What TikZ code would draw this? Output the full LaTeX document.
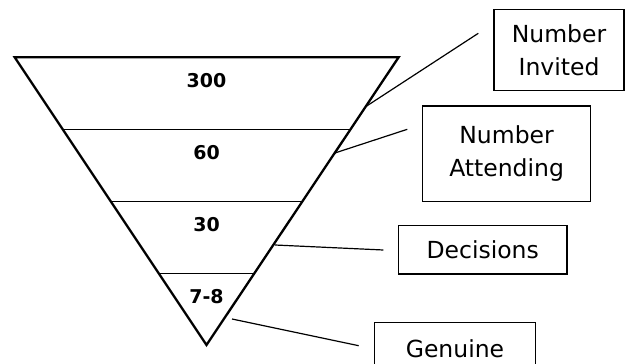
\documentclass[tikz,border=0pt]{standalone}
\usepackage{fontspec}
\setmainfont{DejaVu Sans}
\begin{document}
\begin{tikzpicture}[x=1pt,y=-1pt,
  tri/.style={line width=2.3pt, line join=miter},
  sep/.style={line width=1.3pt},
  conn/.style={line width=1.2pt},
  lbl/.style={draw, line width=1.4pt, inner sep=0pt, align=center,
    font=\fontsize{23.5}{33}\selectfont},
  num/.style={font=\bfseries\fontsize{19}{21}\selectfont}]
\clip (0,0) rectangle (625,364);
\useasboundingbox (0,0) rectangle (625,364);
% funnel
\coordinate (tl) at (14.7,57.3);
\coordinate (tr) at (398.6,57.3);
\coordinate (ap) at (206.5,345);
\draw[tri] (tl) -- (tr) -- (ap) -- cycle;
\coordinate (a1) at (63.8,129.3);  \coordinate (b1) at (350.7,129.3);
\coordinate (a2) at (111.6,201.7); \coordinate (b2) at (300.9,201.7);
\coordinate (a3) at (159.4,273.3); \coordinate (b3) at (253.9,273.3);
\draw[sep] (a1) -- (b1);
\draw[sep] (a2) -- (b2);
\draw[sep] (a3) -- (b3);
\node[num] (n300) at (206.5,81) {300};
\node[num] (n60) at (206.5,153) {60};
\node[num] (n30) at (206.5,225) {30};
\node[num] (n78) at (206.5,297) {7-8};
% boxes
\node[lbl, minimum width=130pt, minimum height=81.4pt] (inv) at (559,50) {Number\\Invited};
\node[lbl, minimum width=168.2pt, minimum height=95.7pt] (att) at (506.6,153.8) {Number\\Attending};
\node[lbl, minimum width=168.2pt, minimum height=48.7pt] (dec) at (482.7,249.7) {Decisions};
\node[lbl, minimum width=160.7pt, minimum height=80pt, anchor=north] (gen) at (455,321.7) {};
\node[font=\fontsize{23.5}{33}\selectfont] (gent) at (455,349) {Genuine};
% connectors
\coordinate (c1a) at (366.7,106);   \coordinate (c1b) at (478.3,33.3);
\coordinate (c2a) at (334,153.3);   \coordinate (c2b) at (407.3,129.3);
\coordinate (c3a) at (275,245);     \coordinate (c3b) at (383.4,250);
\coordinate (c4a) at (232,319);     \coordinate (c4b) at (358.7,345.7);
\draw[conn] (c1a) -- (c1b);
\draw[conn] (c2a) -- (c2b);
\draw[conn] (c3a) -- (c3b);
\draw[conn] (c4a) -- (c4b);
\end{tikzpicture}
\end{document}
